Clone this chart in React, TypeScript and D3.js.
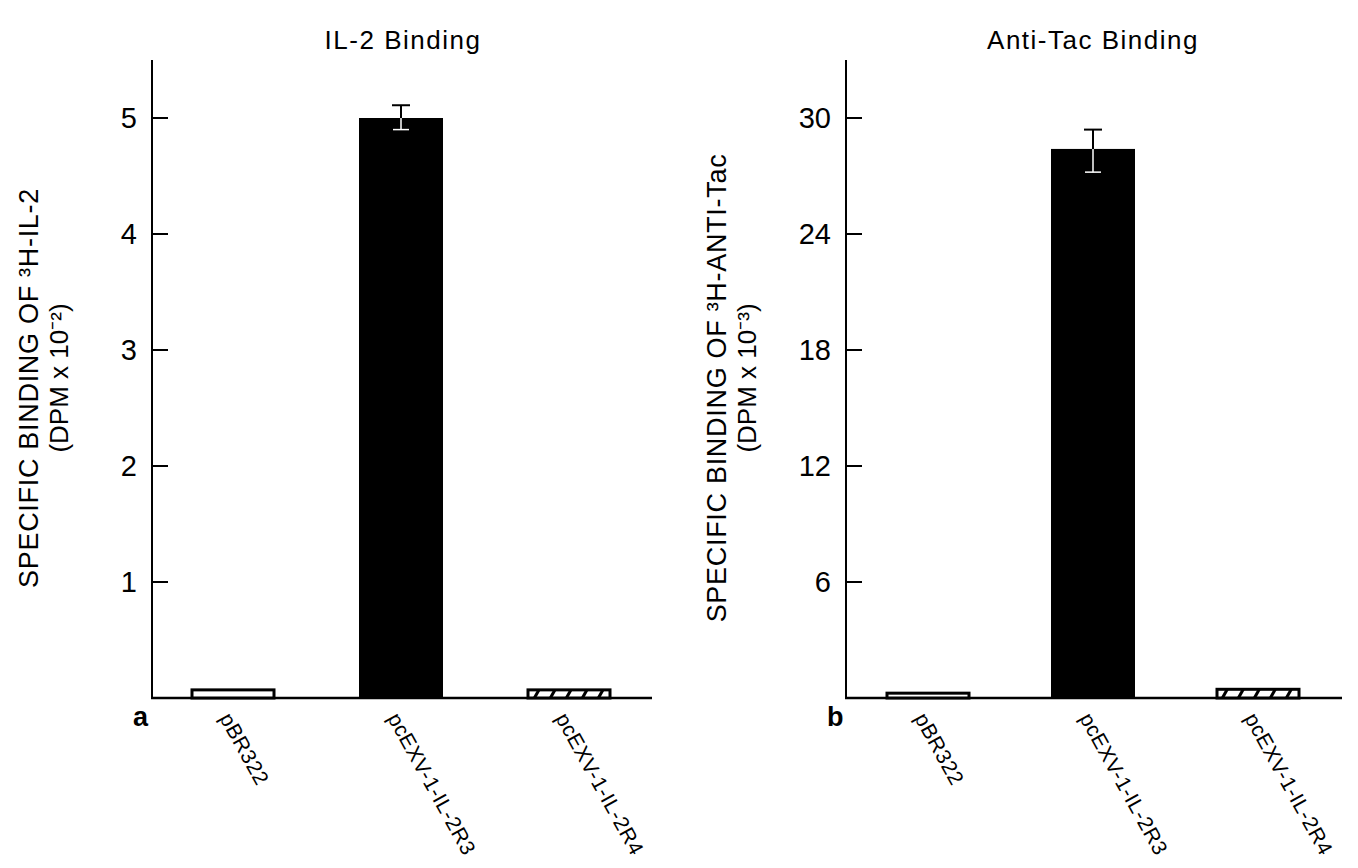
import { useEffect, useRef } from 'react';
import * as d3 from 'd3';

const categories = ['pBR322', 'pcEXV-1-IL-2R3', 'pcEXV-1-IL-2R4'];
const fills = ['open', 'solid', 'hatch'];

// panel a: IL-2 binding (DPM x 10^-2)
const il2Values = [0.07, 5.0, 0.07];
const il2ErrLow = [null, 4.9, null];
const il2ErrHigh = [null, 5.11, null];
const il2Ticks = [1, 2, 3, 4, 5];

// panel b: anti-Tac binding (DPM x 10^-3)
const tacValues = [0.25, 28.4, 0.45];
const tacErrLow = [null, 27.2, null];
const tacErrHigh = [null, 29.4, null];
const tacTicks = [6, 12, 18, 24, 30];

const FONT = "'Liberation Sans', Arial, sans-serif";

const App = () => {
  const svgRef = useRef(null);

  useEffect(() => {
    const svg = d3.select(svgRef.current);
    svg.selectAll('*').remove();

    const defs = svg.append('defs');
    const pat = defs.append('pattern')
      .attr('id', 'hatch')
      .attr('patternUnits', 'userSpaceOnUse')
      .attr('width', 16)
      .attr('height', 16);
    pat.append('rect').attr('width', 16).attr('height', 16).attr('fill', '#fff');
    pat.append('line')
      .attr('x1', 3).attr('y1', 16).attr('x2', 12).attr('y2', 0)
      .attr('stroke', '#000').attr('stroke-width', 3);

    const drawPanel = (opts) => {
      const { x0, x1, xr, yMax, values, lo, hi, ticks, title, titleX, yLab1, yLab2, labX, letter } = opts;
      const baseY = 698;
      const topY = 60;
      const g = svg.append('g');

      const y = d3.scaleLinear().domain([0, yMax]).range([baseY, topY]);
      const x = d3.scalePoint().domain(categories).range([x0 + xr[0], x0 + xr[1]]);
      const bw = 84;
      const cx = (c) => x(c) as number;

      // title
      g.append('text')
        .attr('x', titleX).attr('y', 49)
        .attr('text-anchor', 'middle')
        .style('font-family', FONT).style('font-size', '26px').style('letter-spacing', '1.5px')
        .text(title);

      // axes lines
      g.append('line').attr('x1', x0).attr('x2', x0).attr('y1', topY).attr('y2', baseY + 1)
        .attr('stroke', '#000').attr('stroke-width', 2);
      g.append('line').attr('x1', x0 - 1).attr('x2', x1).attr('y1', baseY).attr('y2', baseY)
        .attr('stroke', '#000').attr('stroke-width', 2.5);

      // ticks
      const tk = g.selectAll('g.tick').data(ticks).join('g').attr('class', 'tick')
        .attr('transform', (d) => `translate(0,${y(d)})`);
      tk.append('line').attr('x1', x0).attr('x2', x0 + 16).attr('stroke', '#000').attr('stroke-width', 2);
      tk.append('text')
        .attr('x', x0 - 15).attr('dy', '0.36em')
        .attr('text-anchor', 'end')
        .style('font-family', FONT).style('font-size', '29px')
        .text((d) => d);

      // y label
      const midY = 388;
      g.append('text')
        .attr('transform', `translate(${labX},${midY}) rotate(-90)`)
        .attr('text-anchor', 'middle')
        .style('font-family', FONT).style('font-size', '27px').style('letter-spacing', '0.7px')
        .text(yLab1);
      g.append('text')
        .attr('transform', `translate(${labX + 30},${midY - 10}) rotate(-90)`)
        .attr('text-anchor', 'middle')
        .style('font-family', FONT).style('font-size', '26px')
        .text(yLab2);

      // bars
      categories.forEach((c, i) => {
        const v = values[i];
        const f = fills[i];
        const left = cx(c) - bw / 2;
        if (f === 'solid') {
          g.append('rect').attr('x', left).attr('y', y(v)).attr('width', bw).attr('height', baseY - y(v))
            .attr('fill', '#000');
        } else {
          g.append('rect').attr('x', left + 1).attr('y', y(v)).attr('width', bw - 2).attr('height', baseY - y(v))
            .attr('fill', f === 'hatch' ? 'url(#hatch)' : '#fff')
            .attr('stroke', '#000').attr('stroke-width', 3);
        }
        if (hi[i] != null) {
          const ex = cx(c);
          g.append('line').attr('x1', ex).attr('x2', ex).attr('y1', y(hi[i])).attr('y2', y(v))
            .attr('stroke', '#000').attr('stroke-width', 2);
          g.append('line').attr('x1', ex - 9).attr('x2', ex + 9).attr('y1', y(hi[i])).attr('y2', y(hi[i]))
            .attr('stroke', '#000').attr('stroke-width', 2);
          g.append('line').attr('x1', ex).attr('x2', ex).attr('y1', y(v)).attr('y2', y(lo[i]))
            .attr('stroke', '#fff').attr('stroke-width', 1.5);
          g.append('line').attr('x1', ex - 8).attr('x2', ex + 8).attr('y1', y(lo[i])).attr('y2', y(lo[i]))
            .attr('stroke', '#fff').attr('stroke-width', 1.5);
        }
        // category label
        g.append('text')
          .attr('transform', `translate(${cx(c) - 14},${baseY + 20}) rotate(61)`)
          .style('font-family', FONT).style('font-size', '21px').style('letter-spacing', '0.5px')
          .text(c);
      });

      g.append('text')
        .attr('x', x0 - 19).attr('y', baseY + 28)
        .style('font-family', FONT).style('font-size', '27px').style('font-weight', 'bold')
        .text(letter);
    };

    drawPanel({
      x0: 152, x1: 652, xr: [81, 417], yMax: 5.5,
      values: il2Values, lo: il2ErrLow, hi: il2ErrHigh, ticks: il2Ticks,
      title: 'IL-2 Binding', titleX: 403,
      yLab1: 'SPECIFIC BINDING OF ³H-IL-2', yLab2: '(DPM x 10⁻²)', labX: 38, letter: 'a',
    });
    drawPanel({
      x0: 846, x1: 1342, xr: [82, 412], yMax: 33,
      values: tacValues, lo: tacErrLow, hi: tacErrHigh, ticks: tacTicks,
      title: 'Anti-Tac Binding', titleX: 1093,
      yLab1: 'SPECIFIC BINDING OF ³H-ANTI-Tac', yLab2: '(DPM x 10⁻³)', labX: 726, letter: 'b',
    });
  }, []);

  return (
    <svg ref={svgRef} width={1358} height={868}
      style={{ position: 'absolute', left: 0, top: 0, background: '#fff' }} />
  );
};

export default App;
